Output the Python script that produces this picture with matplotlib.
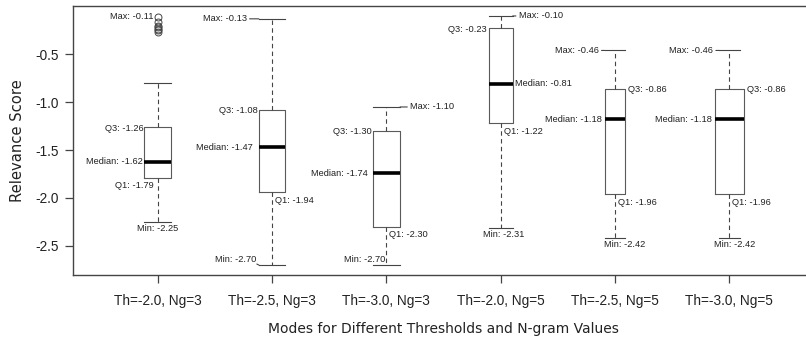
import matplotlib
matplotlib.use("Agg")
import matplotlib.pyplot as plt

plt.rcParams['axes.unicode_minus'] = False

# box statistics
modes = ["Th=-2.0, Ng=3", "Th=-2.5, Ng=3", "Th=-3.0, Ng=3",
         "Th=-2.0, Ng=5", "Th=-2.5, Ng=5", "Th=-3.0, Ng=5"]
whisk_lo = [-2.25, -2.70, -2.70, -2.31, -2.42, -2.42]
q1 = [-1.79, -1.94, -2.30, -1.22, -1.96, -1.96]
median = [-1.62, -1.47, -1.74, -0.81, -1.18, -1.18]
q3 = [-1.26, -1.08, -1.30, -0.23, -0.86, -0.86]
whisk_hi = [-0.80, -0.13, -1.05, -0.10, -0.46, -0.46]
max_label = [-0.11, -0.13, -1.10, -0.10, -0.46, -0.46]
min_label = [-2.25, -2.70, -2.70, -2.31, -2.42, -2.42]
outliers_1 = [-0.11, -0.16, -0.20, -0.22, -0.24, -0.25, -0.27]

# box widths (styling)
widths = [0.23, 0.23, 0.24, 0.21, 0.18, 0.26]
capw = [0.23, 0.23, 0.24, 0.21, 0.18, 0.18]

fig = plt.figure(figsize=(8.06, 3.37), dpi=100)
ax = fig.add_axes([73 / 806, 62 / 337, 741 / 806, 269 / 337])

stats = []
for i in range(len(modes)):
    stats.append(dict(whislo=whisk_lo[i], q1=q1[i], med=median[i], q3=q3[i],
                      whishi=whisk_hi[i], fliers=outliers_1 if i == 0 else []))

pos = list(range(1, len(modes) + 1))
ax.bxp(stats, positions=pos, widths=widths, capwidths=capw,
       boxprops=dict(color="#5a5a5a", lw=0.8),
       medianprops=dict(color="black", lw=2.6, solid_capstyle="butt"),
       whiskerprops=dict(color="#444444", lw=0.8, ls=(0, (4, 3))),
       capprops=dict(color="#444444", lw=0.8),
       flierprops=dict(marker="o", mfc="none", mec="#444444", ms=5, mew=0.7))

ax.set_xlim(0.26, 6.74)
ax.set_ylim(-2.804, 0.004)
ax.set_yticks([-0.5, -1.0, -1.5, -2.0, -2.5])
ax.set_yticklabels(["-0.5", "-1.0", "-1.5", "-2.0", "-2.5"], fontsize=9.8,
                   family="Liberation Sans", color="#222222")
ax.set_xticks(pos)
ax.set_xticklabels(modes, fontsize=9.8, family="Liberation Sans", color="#222222")
ax.tick_params(axis="both", direction="out", length=5.5, width=0.9, color="#444444")
ax.tick_params(axis="x", pad=8)
ax.tick_params(axis="y", pad=5)
for s in ax.spines.values():
    s.set_color("#444444")
    s.set_linewidth(1.0)

ax.set_ylabel("Relevance Score", family="DejaVu Sans", fontsize=10.6, color="#222222", labelpad=7)
ax.set_xlabel("Modes for Different Thresholds and N-gram Values", family="DejaVu Sans",
              fontsize=10, color="#222222", labelpad=10)

PX = 0.72  # points per pixel
fs = 6.7
tk = dict(fontsize=fs, family="Liberation Sans", color="#222222")
line = dict(arrowstyle="-", lw=0.8, color="#444444", shrinkA=0, shrinkB=0)


def note(x, y, txt, dx, dy, ha, va, lead=False, relpos=None):
    kw = dict(textcoords="offset points", ha=ha, va=va, **tk)
    if lead:
        ap = dict(line)
        if relpos is not None:
            ap["relpos"] = relpos
        kw["arrowprops"] = ap
    ax.annotate(txt, xy=(x, y), xytext=(dx * PX, dy * PX), **kw)


for i in range(6):
    c = pos[i]
    # Q1 label: right of the whisker, just below Q1 (except first box)
    if i == 0:
        note(c, q1[i], f"Q1: {q1[i]:.2f}", -4, -8, "right", "center")
    else:
        note(c, q1[i], f"Q1: {q1[i]:.2f}", 3, -8, "left", "center")

# box 1
note(1, outliers_1[0], f"Max: {max_label[0]:.2f}", -4, 0, "right", "center")
note(1 - 0.115, q3[0], f"Q3: {q3[0]:.2f}", -1, -1, "right", "center")
note(1 - 0.115, median[0], f"Median: {median[0]:.2f}", -2, 0, "right", "center")
note(1, whisk_lo[0], f"Min: {min_label[0]:.2f}", 0, -2, "center", "top")

# box 2
note(2 - 0.115, whisk_hi[1], f"Max: {max_label[1]:.2f}", -12, 0, "right", "center", lead=True, relpos=(1, 0.5))
note(2 - 0.115, q3[1], f"Q3: {q3[1]:.2f}", -1, -1, "right", "center")
note(2 - 0.115, median[1], f"Median: {median[1]:.2f}", -6, 0, "right", "center")
note(2 - 0.115, whisk_lo[1], f"Min: {min_label[1]:.2f}", -2, 1, "right", "bottom", lead=True, relpos=(1, 0))

# box 3
note(3 + 0.12, whisk_hi[2], f"Max: {max_label[2]:.2f}", 10, 0, "left", "center", lead=True, relpos=(0, 0.5))
note(3 - 0.12, q3[2], f"Q3: {q3[2]:.2f}", -1, -1, "right", "center")
note(3 - 0.12, median[2], f"Median: {median[2]:.2f}", -5, 0, "right", "center")
note(3, whisk_lo[2], f"Min: {min_label[2]:.2f}", -1, 1, "right", "bottom")

# box 4
note(4 + 0.105, whisk_hi[3], f"Max: {max_label[3]:.2f}", 6, 0, "left", "center", lead=True, relpos=(0, 0.5))
note(4 - 0.105, q3[3], f"Q3: {q3[3]:.2f}", -2, -1, "right", "center")
note(4 + 0.105, median[3], f"Median: {median[3]:.2f}", 2, 0, "left", "center")
note(4, whisk_lo[3], f"Min: {min_label[3]:.2f}", 3, -2, "center", "top")

# boxes 5 and 6
for i in (4, 5):
    c = pos[i]
    hw = widths[i] / 2
    note(c - capw[i] / 2, whisk_hi[i], f"Max: {max_label[i]:.2f}", -6, 0, "right", "center", lead=True, relpos=(1, 0.5))
    note(c + hw, q3[i], f"Q3: {q3[i]:.2f}", 3, -1, "left", "center")
    note(c - hw, median[i], f"Median: {median[i]:.2f}", -3, 0, "right", "center")
    note(c - hw, whisk_lo[i], f"Min: {min_label[i]:.2f}", -1, -2, "left", "top")

fig.savefig("out.png", dpi=100)
